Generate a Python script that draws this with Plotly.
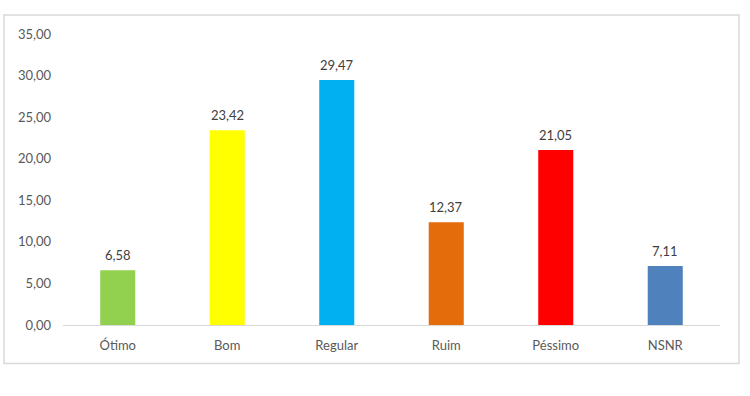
import plotly.graph_objects as go

categories = ["Ótimo", "Bom", "Regular", "Ruim", "Péssimo", "NSNR"]
values = [6.58, 23.42, 29.47, 12.37, 21.05, 7.11]
colors = ["#92D050", "#FFFF00", "#00B0F0", "#E46C0A", "#FF0000", "#4F81BD"]
tick_vals = [0, 5, 10, 15, 20, 25, 30, 35]

W, H = 750, 396
L, R, T, B = 63, 30, 34, 70.5
pw, ph = W - L - R, H - T - B

fig = go.Figure(go.Bar(
    x=categories, y=values, marker=dict(color=colors, line=dict(width=0)),
    hoverinfo="x+y",
))

for c, v in zip(categories, values):
    fig.add_annotation(x=c, y=v, text=f"{v:.2f}".replace(".", ","), showarrow=False,
                       yanchor="bottom", yshift=5,
                       font=dict(family="Lato", size=13, color="#404040"))

fig.update_layout(
    width=W, height=H,
    margin=dict(l=L, r=R, t=T, b=B, pad=0),
    paper_bgcolor="white", plot_bgcolor="white",
    separators=",.",
    bargap=0.68,
    showlegend=False,
    font=dict(family="Lato", size=13, color="#595959"),
    xaxis=dict(showgrid=False, showline=True, linecolor="#D9D9D9", linewidth=1,
               ticks="", tickfont=dict(size=13, color="#595959"), ticklabelstandoff=8),
    yaxis=dict(range=[0, 35], tickvals=tick_vals, tickformat=".2f", showgrid=False,
               zeroline=False, showline=False, ticks="", ticklabelstandoff=11,
               tickfont=dict(size=13, color="#595959")),
)

x0 = (4 - L) / pw
x1 = (739 - L) / pw
y0 = (H - B - 364) / ph
y1 = (H - B - 15) / ph
fig.add_shape(type="rect", xref="paper", yref="paper", x0=x0, x1=x1, y0=y0, y1=y1,
              line=dict(color="#D9D9D9", width=1.5), fillcolor="rgba(0,0,0,0)", layer="below")

fig.write_html("out.html", config={"displayModeBar": False},
               post_script="document.body.style.margin='0';")
